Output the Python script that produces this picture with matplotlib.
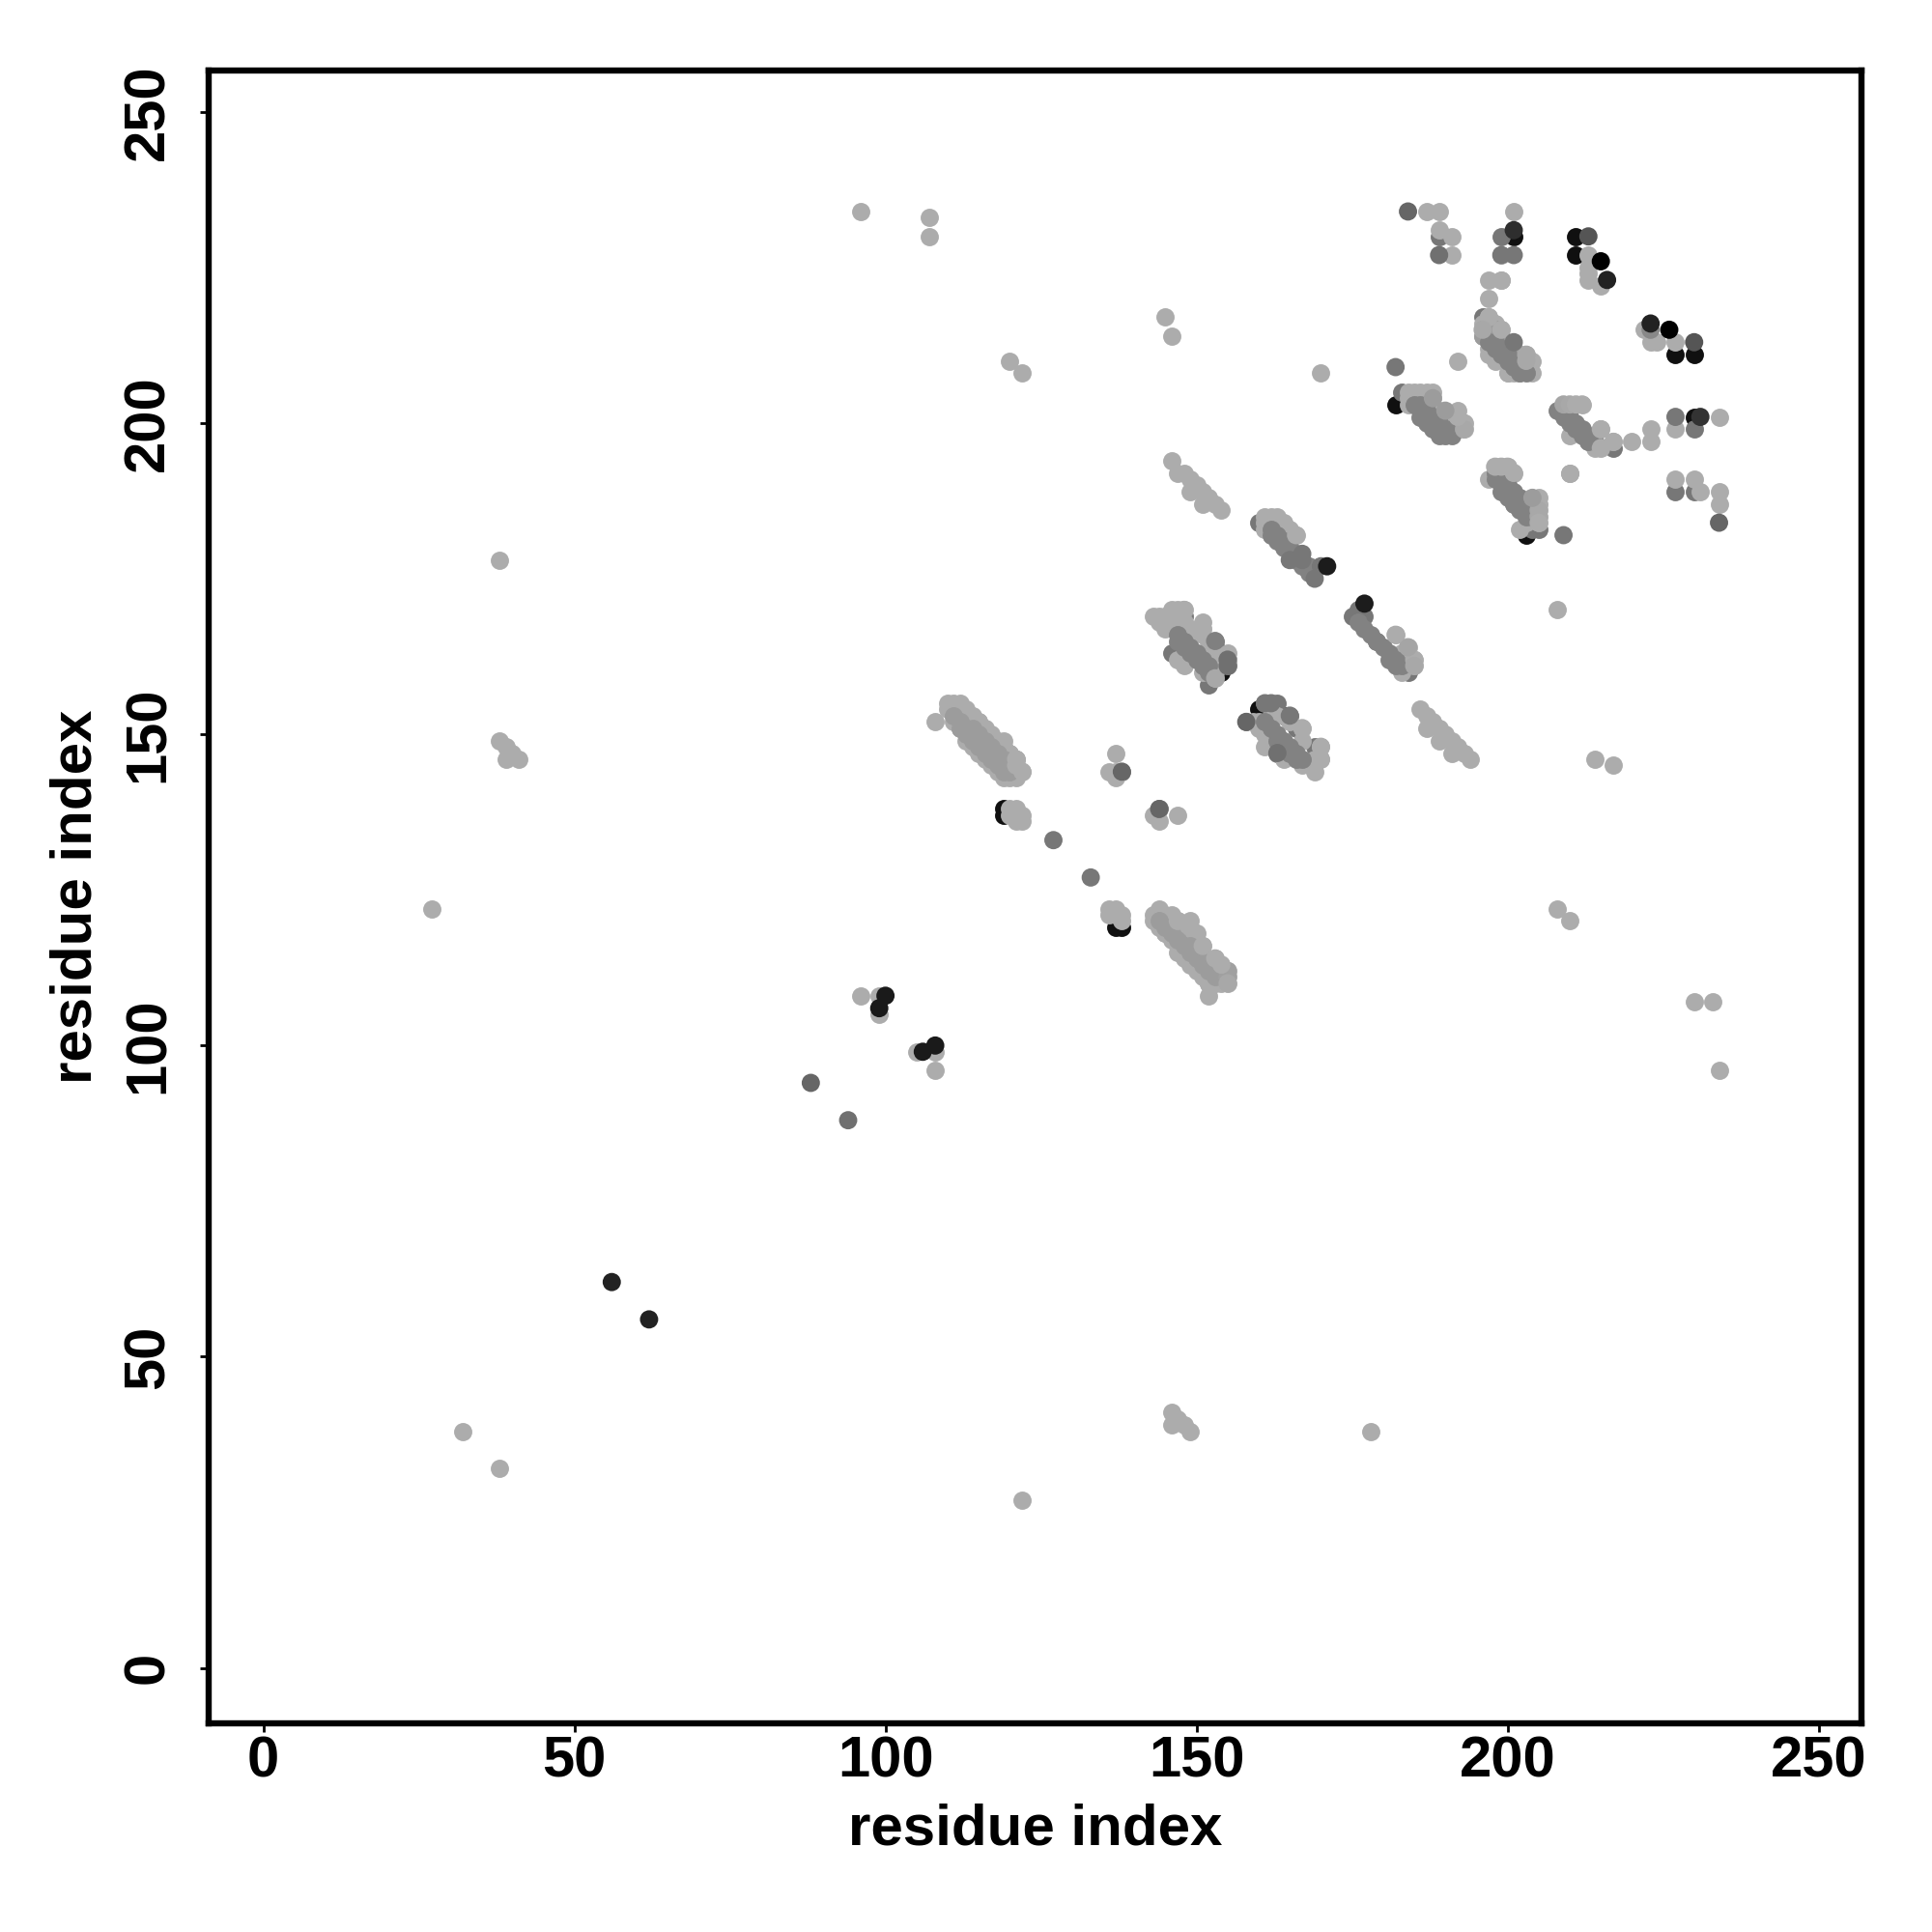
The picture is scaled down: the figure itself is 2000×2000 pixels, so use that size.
import matplotlib
matplotlib.use("Agg")
import matplotlib.pyplot as plt

# contact points, grouped by grey level and draw order
black_low_x = [119, 119, 137, 138, 182, 153, 154, 160, 164, 203, 201, 227, 230, 211, 211, 230]
black_low_y = [138, 137, 119, 119, 203, 164, 160, 154, 153, 182, 230, 211, 211, 230, 227, 201]

dark_low_x = [189, 230, 196, 183, 217, 205, 204, 184, 160, 161, 162, 163, 176, 175, 176, 177, 153, 155, 155, 152, 146,
              158, 161, 162, 163, 165, 166, 163, 169, 148, 199, 227, 230, 138, 144]
dark_low_y = [230, 189, 217, 205, 196, 183, 183, 160, 184, 184, 184, 183, 170, 169, 169, 169, 165, 162, 161, 158, 163,
              152, 155, 155, 155, 153, 151, 147, 148, 169, 230, 189, 199, 144, 138]

light_x = [96, 107, 107, 120, 122, 145, 146, 170, 192, 38, 38, 39, 40, 39, 41, 27, 208, 210, 214, 217, 208, 210,
           230, 233, 234, 96, 99, 99, 105, 108, 108, 32, 38, 146, 147, 146, 148, 149, 178, 122,
           187, 189, 189, 191, 191, 201, 199, 199, 213, 213, 213, 213, 215, 197, 199, 197,
           197, 196, 196, 196, 199, 198, 203, 203, 203, 201, 200, 197, 197, 198, 197, 200, 202, 204, 204,
           184, 186, 187, 188, 184, 184, 191, 193, 193, 185, 186, 188, 189, 191, 190, 192, 192,
           209, 210, 211, 212, 215, 217, 215, 214, 213, 210, 220, 223, 223, 227, 234, 227, 230, 231, 234, 234,
           210, 197, 198, 199, 200, 201, 205, 205, 205, 205, 203, 202, 201, 204, 205, 203,
           222, 223, 224, 227, 146, 147, 148, 149, 149, 150, 151, 151, 152, 153, 154,
           161, 162, 163, 161, 161, 162, 163, 164, 166, 165, 165, 164,
           182, 184, 185, 185, 183, 183, 184, 183,
           186, 187, 188, 187, 189, 190, 189, 191, 192, 191, 193, 194,
           143, 144, 147, 144, 145, 146, 148, 145, 149, 147, 148, 151, 149, 151, 152, 151, 153, 153, 153, 154,
           151, 147, 148, 152, 152, 153, 153, 155, 155,
           159, 160, 160, 162, 167, 167, 170, 170, 169, 169, 167, 161, 161, 165, 163, 164,
           108, 110, 111, 112, 110, 111, 113, 114, 116, 119, 120, 121, 121, 122, 120, 121, 114, 111, 111, 112, 115, 118,
           120, 121, 120, 122, 122, 121, 137, 136, 137, 137, 136, 137, 138, 136, 137, 138, 143, 144, 147,
           144, 143, 143, 146, 147, 149, 151, 153, 154, 155, 155, 155, 154, 152, 144, 145, 145, 146, 147, 148, 149,
           147, 148, 146, 145, 146, 148, 149, 150, 151, 145, 147, 149, 152,
           113, 114, 115, 116, 117, 118, 119, 115, 117, 118, 119, 120, 121,
           147, 148, 149, 150, 151, 152, 153, 144, 145, 146, 150, 148]
light_y = [234, 233, 230, 210, 208, 217, 214, 208, 210, 178, 149, 148, 147, 146, 146, 122, 170, 192, 146, 145, 122, 120,
           107, 107, 96, 108, 108, 105, 99, 99, 96, 38, 32, 41, 40, 39, 39, 38, 38, 27,
           234, 234, 231, 230, 227, 234, 227, 223, 227, 225, 224, 223, 222, 223, 223, 220,
           217, 216, 215, 214, 215, 216, 211, 210, 209, 208, 208, 212, 211, 210, 213, 208, 208, 208, 210,
           205, 205, 205, 204, 204, 203, 201, 200, 199, 205, 204, 205, 202, 200, 201, 201, 202,
           203, 203, 203, 203, 199, 197, 196, 196, 197, 198, 197, 199, 197, 199, 201, 191, 191, 189, 189, 187,
           192, 191, 193, 193, 193, 192, 187, 186, 185, 184, 184, 183, 187, 185, 188, 186,
           215, 213, 213, 213, 194, 192, 192, 191, 189, 190, 189, 187, 188, 187, 186,
           185, 185, 185, 184, 183, 182, 184, 184, 182, 183, 181, 183,
           166, 164, 162, 161, 160, 162, 162, 163,
           154, 153, 152, 151, 151, 150, 149, 149, 148, 147, 147, 146,
           169, 169, 170, 168, 169, 170, 170, 167, 167, 162, 161, 167, 166, 166, 163, 160, 159, 162, 161, 162,
           168, 168, 168, 164, 165, 160, 163, 163, 162,
           152, 151, 152, 153, 151, 149, 148, 146, 146, 144, 145, 148, 150, 152, 153, 146,
           152, 155, 155, 155, 154, 154, 154, 153, 151, 149, 147, 146, 145, 144, 143, 143, 149, 153, 152, 151, 152, 148,
           138, 138, 137, 137, 136, 136, 147, 144, 144, 143, 122, 122, 121, 121, 121, 120, 137, 136, 137,
           122, 121, 120, 121, 120, 119, 116, 114, 113, 112, 111, 110, 110, 108, 120, 119, 118, 118, 116, 115, 114,
           117, 116, 119, 120, 120, 119, 115, 116, 112, 121, 119, 120, 110,
           149, 148, 147, 146, 145, 144, 143, 152, 150, 149, 148, 147, 146,
           115, 114, 113, 112, 111, 110, 110, 119, 118, 117, 118, 118]

# paler inner part of the bands that are lighter overall
soft_x = [112, 113, 114, 115, 116, 117, 118, 119, 120, 112, 113, 114, 115, 116, 117, 118, 119, 115, 116, 117, 118, 119,
          120, 111, 114,
          144, 145, 146, 147, 148, 149, 150, 151, 152, 153, 151, 152, 153, 150, 149,
          196, 196, 197, 198, 199, 201, 202]
soft_y = [152, 151, 150, 149, 148, 147, 146, 145, 144, 151, 150, 149, 148, 147, 146, 145, 144, 150, 149, 148, 147, 146,
          145, 153, 151,
          120, 119, 118, 117, 116, 115, 114, 113, 112, 111, 114, 113, 112, 115, 116,
          215, 214, 216, 215, 214, 212, 211]

# darker middle of the bands
band_x = [197, 198, 199, 200, 201, 202, 198, 199, 200, 201, 202, 203,
          185, 186, 187, 188, 189, 190, 191, 186, 187, 188, 189, 190, 191, 186, 187, 188, 189,
          208, 209, 210, 211, 212, 213, 209, 210, 211, 212, 213, 214,
          198, 199, 200, 201, 202, 203, 204, 199, 200, 201, 202, 203, 204, 199, 200, 201, 202, 203, 198,
          162, 163, 164, 165, 166, 163, 164, 165, 166, 162, 167, 168, 168,
          176, 177, 178, 179, 180, 181, 182, 183, 181, 182, 179,
          147, 148, 149, 150, 151, 152, 148, 149, 150, 151, 147, 152,
          162, 163, 164, 165, 166, 167, 163, 164, 165, 166, 161]
band_y = [213, 212, 211, 210, 209, 208, 213, 212, 211, 210, 209, 208,
          203, 202, 201, 200, 199, 198, 198, 203, 202, 201, 200, 199, 199, 201, 200, 199, 198,
          202, 201, 200, 199, 198, 197, 202, 201, 200, 199, 198, 197,
          191, 190, 189, 188, 187, 186, 185, 191, 190, 189, 188, 187, 186, 189, 188, 187, 186, 185, 192,
          182, 181, 180, 179, 178, 182, 181, 180, 179, 183, 177, 176, 177,
          168, 167, 166, 165, 164, 163, 162, 161, 162, 161, 165,
          166, 165, 164, 163, 162, 161, 164, 163, 162, 161, 165, 160,
          151, 150, 149, 148, 147, 146, 149, 148, 147, 146, 152]

# light points sitting over the band ends
cap_x = [198, 199, 200, 201, 205, 205, 205, 205, 203, 203, 204, 197, 199, 196,
         188, 193, 193, 192, 190, 209, 210, 211, 212, 215, 217, 215,
         155, 155, 155, 154, 153, 151, 149, 147, 122, 121, 121,
         185, 185, 184, 182, 166, 153, 151, 148, 167, 170, 170]
cap_y = [193, 193, 193, 192, 187, 186, 185, 184, 211, 210, 188, 217, 215, 215,
         204, 200, 199, 201, 202, 203, 203, 203, 203, 199, 197, 196,
         112, 111, 110, 113, 114, 116, 119, 120, 144, 145, 146,
         162, 161, 164, 166, 182, 159, 167, 170, 151, 148, 146]
cap_grey = ["#acacac", "#acacac", "#acacac", "#acacac", "#acacac", "#a8a8a8", "#a8a8a8", "#acacac", "#a8a8a8", "#a8a8a8",
            "#9c9c9c", "#acacac", "#acacac", "#a8a8a8",
            "#9c9c9c", "#acacac", "#a8a8a8", "#acacac", "#9c9c9c", "#a5a5a5", "#a8a8a8", "#acacac", "#acacac", "#acacac",
            "#acacac", "#acacac",
            "#a0a0a0", "#a0a0a0", "#a8a8a8", "#acacac", "#acacac", "#acacac", "#acacac", "#acacac", "#acacac", "#acacac",
            "#acacac",
            "#acacac", "#a8a8a8", "#a5a5a5", "#acacac", "#acacac", "#a8a8a8", "#acacac", "#acacac", "#acacac", "#acacac",
            "#acacac"]

dark_top_x = [184, 189, 199, 201, 213, 182, 201, 209, 223, 230, 227, 234, 153, 155, 155, 138, 144, 127, 133, 88, 94,
              167, 167, 165, 169, 170, 161, 162, 165, 158, 163]
dark_top_y = [234, 227, 227, 227, 230, 209, 213, 182, 215, 213, 201, 184, 165, 162, 161, 144, 138, 133, 127, 94, 88,
              179, 178, 178, 175, 177, 155, 155, 153, 152, 147]
dark_top_grey = ["#666666", "#707070", "#777777", "#777777", "#555555", "#777777", "#777777", "#777777", "#888888",
                 "#555555", "#777777", "#666666", "#808080", "#707070", "#707070", "#666666", "#666666", "#777777",
                 "#777777", "#666666", "#707070", "#777777", "#777777", "#777777", "#777777", "#777777", "#777777",
                 "#777777", "#777777", "#666666", "#707070"]

black_top_x = [201, 215, 216, 223, 226, 171, 177, 231, 100, 99, 106, 108, 56, 62]
black_top_y = [231, 226, 223, 216, 215, 177, 171, 201, 108, 106, 99, 100, 62, 56]
black_top_grey = ["#2e2e2e", "#000000", "#222222", "#222222", "#000000", "#1c1c1c", "#1c1c1c", "#333333", "#1a1a1a",
                  "#1a1a1a", "#1a1a1a", "#1a1a1a", "#222222", "#222222"]

ticks = [0, 50, 100, 150, 200, 250]

plt.rcParams["font.family"] = ["Liberation Sans", "DejaVu Sans"]
plt.rcParams["font.weight"] = "bold"

fig = plt.figure(figsize=(20, 20), dpi=100)
ax = fig.add_axes([0.108, 0.108, 0.8555, 0.8555])

size = 185
ax.scatter(black_low_x, black_low_y, s=size, c="#101010", linewidths=0)
ax.scatter(dark_low_x, dark_low_y, s=size, c="#777777", linewidths=0)
ax.scatter(light_x, light_y, s=size, c="#acacac", linewidths=0)
ax.scatter(soft_x, soft_y, s=size, c="#9c9c9c", linewidths=0)
ax.scatter(band_x, band_y, s=size, c="#828282", linewidths=0)
ax.scatter(cap_x, cap_y, s=size, c=cap_grey, linewidths=0)
ax.scatter(dark_top_x, dark_top_y, s=size, c=dark_top_grey, linewidths=0)
ax.scatter(black_top_x, black_top_y, s=size, c=black_top_grey, linewidths=0)

ax.set_xlim(-8.8, 256.9)
ax.set_ylim(-8.9, 256.65)
ax.set_xticks(ticks)
ax.set_yticks(ticks)
ax.tick_params(axis="both", length=6.5, width=2, labelsize=43, pad=2.5)
ax.tick_params(axis="y", labelrotation=90, pad=18.5)
for lab in ax.get_yticklabels():
    lab.set_va("center")
for side in ax.spines.values():
    side.set_linewidth(4.6)

ax.set_xlabel("residue index", fontsize=43.2, fontweight="bold", labelpad=10.5)
ax.set_ylabel("residue index", fontsize=43.2, fontweight="bold", labelpad=14)

fig.savefig("out.png", dpi=100, facecolor="white")
